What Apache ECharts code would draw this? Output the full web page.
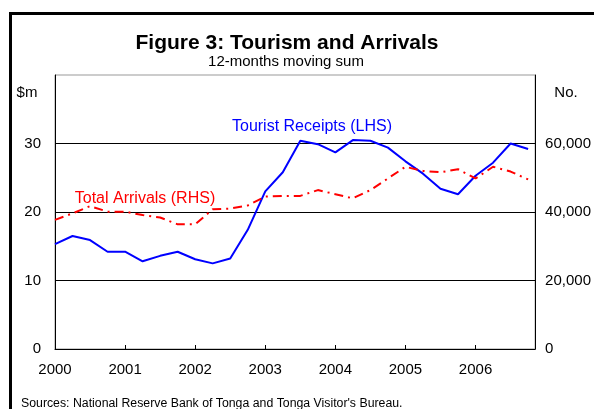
<!DOCTYPE html>
<html><head><meta charset="utf-8">
<script src="https://cdn.jsdelivr.net/npm/echarts@6/dist/echarts.min.js"></script>
<style>html,body{margin:0;padding:0;background:#fff}#c{width:594px;height:409px}</style>
</head><body><div id="c"></div>
<script>
const quarters = [2000, 2000.25, 2000.5, 2000.75, 2001, 2001.25, 2001.5, 2001.75, 2002, 2002.25, 2002.5, 2002.75, 2003, 2003.25, 2003.5, 2003.75, 2004, 2004.25, 2004.5, 2004.75, 2005, 2005.25, 2005.5, 2005.75, 2006, 2006.25, 2006.5, 2006.75];
const receipts = [15.3, 16.5, 15.9, 14.2, 14.2, 12.8, 13.6, 14.2, 13.1, 12.5, 13.2, 17.4, 23.0, 25.8, 30.4, 29.9, 28.7, 30.5, 30.4, 29.4, 27.4, 25.6, 23.4, 22.6, 25.3, 27.2, 30.0, 29.2];
const arrivals = [37700, 39600, 41700, 40100, 40100, 39100, 38400, 36400, 36400, 40800, 41000, 41900, 44500, 44700, 44700, 46400, 45200, 44000, 46400, 49800, 53200, 52000, 51600, 52500, 49800, 53200, 51800, 49500];
const yearTicks = [2000, 2001, 2002, 2003, 2004, 2005, 2006];

const FONT = 'Liberation Sans, Arial, sans-serif';
const chart = echarts.init(document.getElementById('c'), null, {renderer: 'canvas'});
const fmtNum = v => String(v).replace(/\B(?=(\d{3})+(?!\d))/g, ',');
chart.setOption({
  animation: false,
  backgroundColor: '#fff',
  grid: {left: 55, right: 57, top: 75, bottom: 60, show: true, borderColor: '#999', borderWidth: 1},
  xAxis: {
    type: 'value', min: 2000, max: 2006.85, interval: 1,
    axisLine: {show: true, lineStyle: {color: '#000', width: 1}},
    axisTick: {show: true, inside: true, length: 4, lineStyle: {color: '#000'}},
    splitLine: {show: false},
    axisLabel: {color: '#000', fontFamily: FONT, fontSize: 15, margin: 13,
      formatter: v => yearTicks.includes(Math.round(v*100)/100) ? String(v) : ''}
  },
  yAxis: [
    {type: 'value', min: 0, max: 40, interval: 10, position: 'left',
     axisLine: {show: true, lineStyle: {color: '#000', width: 1}},
     axisTick: {show: false},
     splitLine: {show: true, showMinLine: false, showMaxLine: false, lineStyle: {color: '#000', width: 1}},
     axisLabel: {color: '#000', fontFamily: FONT, fontSize: 15, margin: 14, showMaxLabel: false}},
    {type: 'value', min: 0, max: 80000, interval: 20000, position: 'right',
     axisLine: {show: true, lineStyle: {color: '#000', width: 1}},
     axisTick: {show: false},
     splitLine: {show: false},
     axisLabel: {color: '#000', fontFamily: FONT, fontSize: 15, margin: 10, showMaxLabel: false, formatter: fmtNum}}
  ],
  series: [
    {type: 'line', name: 'Tourist Receipts (LHS)', yAxisIndex: 0, symbol: 'none',
     data: quarters.map((q, i) => [q, receipts[i]]),
     lineStyle: {color: '#0000FF', width: 2}, z: 3},
    {type: 'line', name: 'Total Arrivals (RHS)', yAxisIndex: 1, symbol: 'none',
     data: quarters.map((q, i) => [q, arrivals[i]]),
     lineStyle: {color: '#FF0000', width: 2, type: [9, 5, 2, 5]}, z: 4}
  ],
  graphic: [
    {type: 'rect', left: 8, top: 11, shape: {width: 620, height: 440}, style: {fill: 'none', stroke: '#000', lineWidth: 3}, silent: true},
    {type: 'text', x: 287, y: 43, style: {text: 'Figure 3: Tourism and Arrivals', fill: '#000', font: 'bold 21px ' + FONT, textAlign: 'center', textVerticalAlign: 'middle'}},
    {type: 'text', x: 286, y: 62, style: {text: '12-months moving sum', fill: '#000', font: '15px ' + FONT, textAlign: 'center', textVerticalAlign: 'middle'}},
    {type: 'text', x: 27, y: 93, style: {text: '$m', fill: '#000', font: '15px ' + FONT, textAlign: 'center', textVerticalAlign: 'middle'}},
    {type: 'text', x: 566, y: 93, style: {text: 'No.', fill: '#000', font: '15px ' + FONT, textAlign: 'center', textVerticalAlign: 'middle'}},
    {type: 'text', x: 312, y: 127, style: {text: 'Tourist Receipts (LHS)', fill: '#0000FF', font: '16px ' + FONT, textAlign: 'center', textVerticalAlign: 'middle'}},
    {type: 'text', x: 145, y: 199, style: {text: 'Total Arrivals (RHS)', fill: '#FF0000', font: '16px ' + FONT, textAlign: 'center', textVerticalAlign: 'middle'}},
    {type: 'text', x: 21, y: 404, style: {text: "Sources: National Reserve Bank of Tonga and Tonga Visitor's Bureau.", fill: '#000', font: '12.3px ' + FONT, textAlign: 'left', textVerticalAlign: 'middle'}}
  ]
});
</script></body></html>
